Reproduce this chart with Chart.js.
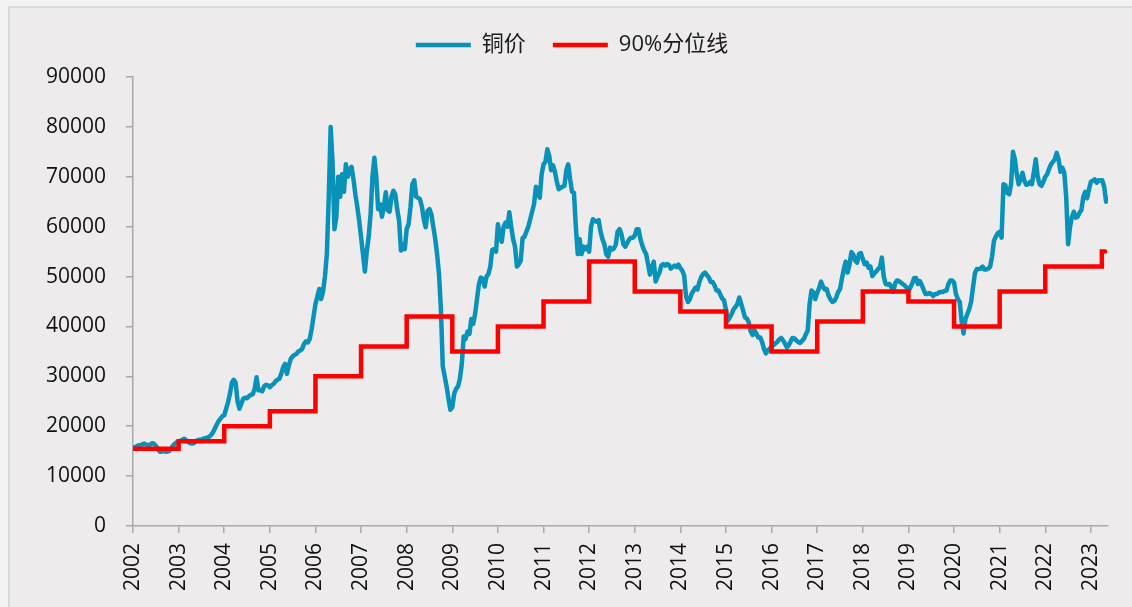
<!DOCTYPE html>
<html>
<head>
<meta charset="utf-8">
<script src="https://cdn.jsdelivr.net/npm/chart.js@4.4.0/dist/chart.umd.min.js"></script>
<style>
html, body { margin: 0; padding: 0; background: #f3f3f3; }
#frame { position: absolute; left: 8px; top: 6px; width: 1124px; height: 601px; box-sizing: border-box;
	background: #edebeb; border-left: 2px solid #dadada; border-top: 2px solid #dadada; }
#c { position: absolute; left: 0; top: 0; }
</style>
</head>
<body>
<div id="frame"></div>
<canvas id="c" width="1132" height="607"></canvas>
<script>

// copper price, semi-monthly readings, one array per year
var cu2002 = [15500, 15800, 16000, 16200, 16100, 16400, 16500, 16300, 16200, 16300, 16600, 16500, 16100, 15500, 14900, 14900, 15000, 14900, 14900, 15000, 15500, 16100, 16500, 16800];
var cu2003 = [16900, 17100, 17300, 17500, 17200, 16900, 16600, 16500, 16600, 17000, 17200, 17300, 17300, 17500, 17600, 17700, 17900, 18200, 18700, 19500, 20300, 21000, 21500, 22000];
var cu2004 = [22200, 23500, 24800, 26500, 28700, 29300, 28700, 25000, 23500, 24500, 25500, 25700, 25600, 26000, 26300, 26400, 27500, 29800, 27200, 27200, 27000, 28000, 28300, 28200];
var cu2005 = [27800, 28200, 28500, 29000, 29300, 29500, 30500, 31800, 32500, 30500, 32200, 33500, 34000, 34300, 34500, 35000, 35200, 35500, 36500, 37000, 36800, 37500, 39500, 42000];
var cu2006 = [44500, 46000, 47500, 45500, 47000, 50000, 54500, 66000, 80000, 73000, 59500, 62000, 70000, 66000, 70500, 67000, 72500, 70000, 71500, 72000, 69500, 66500, 64000, 61200];
var cu2007 = [57900, 54500, 51000, 55000, 58000, 62500, 70000, 73800, 70000, 63500, 64500, 62000, 64000, 66900, 63300, 63000, 66000, 67200, 66500, 63500, 61200, 55200, 56500, 55500];
var cu2008 = [59500, 60500, 63900, 68500, 69300, 66000, 65800, 65500, 64000, 61500, 59900, 63200, 63500, 62500, 60000, 57600, 54500, 50500, 43500, 32000, 30000, 28000, 25500, 23300];
var cu2009 = [23800, 26500, 27500, 28000, 29500, 32500, 38000, 37500, 39000, 38500, 41500, 40500, 42500, 45500, 48500, 49800, 49500, 48000, 50000, 50500, 52000, 55300, 55500, 55000];
var cu2010 = [60500, 58000, 57000, 60000, 60800, 60000, 62900, 60000, 57500, 56000, 52000, 52500, 53200, 57700, 58000, 59000, 60000, 61500, 63000, 64500, 68000, 66700, 65800, 70500];
var cu2011 = [72500, 73000, 75500, 74200, 71300, 72300, 71000, 69000, 67500, 67800, 68000, 68200, 71300, 72500, 69500, 67000, 66800, 60000, 54500, 57500, 54500, 56000, 55500, 56000];
var cu2012 = [55000, 60000, 61500, 61200, 61000, 61300, 59000, 57500, 56500, 54500, 54000, 55800, 55400, 55600, 56400, 59000, 59500, 58500, 56500, 56000, 56700, 57400, 57800, 57800];
var cu2013 = [58200, 59500, 59500, 57500, 56200, 55200, 54500, 52500, 50400, 51800, 53000, 49000, 50000, 50800, 52200, 52500, 52200, 52500, 52300, 51600, 51900, 52200, 51900, 52400];
var cu2014 = [51700, 51200, 50200, 46000, 44900, 45500, 46600, 47200, 47800, 47400, 48900, 49900, 50500, 50800, 50300, 49800, 48900, 48900, 48200, 47200, 47200, 46400, 45600, 45200];
var cu2015 = [43300, 41200, 41800, 42500, 43400, 43900, 44500, 45800, 44500, 43200, 41800, 41600, 40800, 39000, 38300, 39200, 38500, 37800, 37800, 36900, 35500, 34600, 35200, 35500];
var cu2016 = [35900, 36300, 36600, 36900, 37400, 37700, 37200, 36600, 35800, 36200, 37000, 37700, 37600, 37200, 36900, 36700, 37100, 37500, 38400, 39200, 44500, 47200, 46800, 45500];
var cu2017 = [46800, 47700, 49000, 48000, 47400, 47500, 46200, 45400, 44900, 45100, 45800, 46900, 47500, 49600, 51500, 53000, 50800, 52400, 54900, 54400, 53200, 52800, 54500, 54700];
var cu2018 = [53500, 52500, 52800, 51800, 52000, 50100, 50600, 51000, 51500, 51800, 53800, 50000, 48500, 48400, 48500, 47900, 46900, 48600, 49200, 49100, 48800, 48500, 48200, 47800];
var cu2019 = [47200, 47800, 48600, 49700, 49700, 48500, 49100, 48300, 47400, 46500, 46500, 46700, 46500, 46100, 46500, 46500, 46800, 46900, 46900, 47100, 47200, 48500, 49200, 49200];
var cu2020 = [48800, 46500, 45500, 44900, 41000, 38600, 41500, 42500, 43500, 45000, 47900, 50700, 51500, 51500, 51600, 52000, 51400, 51400, 51600, 52000, 54000, 57200, 58000, 58700];
var cu2021 = [59000, 57800, 68500, 68300, 66800, 66500, 68500, 75000, 73500, 70500, 68500, 69500, 70800, 69200, 68400, 68500, 69000, 68500, 71000, 73500, 70000, 68500, 68200, 69000];
var cu2022 = [70000, 70500, 71600, 72500, 73000, 73500, 74800, 73500, 71000, 71800, 70800, 66000, 56500, 59900, 61900, 63000, 61800, 62000, 62800, 63300, 66000, 67000, 65700, 67500];
var cu2023 = [69000, 69200, 69500, 68800, 69300, 69200, 69300, 68000, 65000, 65500];

var years = [2002, 2003, 2004, 2005, 2006, 2007, 2008, 2009, 2010, 2011, 2012, 2013, 2014, 2015, 2016, 2017, 2018, 2019, 2020, 2021, 2022, 2023];
var pointsPerYear = 24;

// 90% quantile line: each value holds from its date until the next one
var q90Dates = [2002, 2003, 2004, 2005, 2006, 2007, 2008, 2009, 2010, 2011, 2012, 2013, 2014, 2015, 2016, 2017, 2018, 2019, 2020, 2021, 2022, 2023.24, 2023.31];
var q90Values = [15500, 17000, 20000, 23000, 30000, 36000, 42000, 35000, 40000, 45000, 53000, 47000, 43000, 40000, 35000, 41000, 47000, 45000, 40000, 47000, 52000, 55000, 55000];

var yTicks = [0, 10000, 20000, 30000, 40000, 50000, 60000, 70000, 80000, 90000];


var copperByYear = [cu2002, cu2003, cu2004, cu2005, cu2006, cu2007, cu2008, cu2009, cu2010, cu2011, cu2012,
	cu2013, cu2014, cu2015, cu2016, cu2017, cu2018, cu2019, cu2020, cu2021, cu2022, cu2023];

var copperPoints = [];
for (var i = 0; i < years.length; i++) {
	for (var k = 0; k < copperByYear[i].length; k++) {
		copperPoints.push({x: years[i] + k / pointsPerYear, y: copperByYear[i][k]});
	}
}

var q90Points = [];
for (var j = 0; j < q90Dates.length; j++) {
	q90Points.push({x: q90Dates[j], y: q90Values[j]});
}

var axisGrey = "#a9a9a9";
var textColor = "#111111";
Chart.defaults.font.family = "'Open Sans', 'Noto Sans CJK SC', sans-serif";

// push the plot down a little below the legend
var legendGap = {
	id: "legendGap",
	beforeInit: function (chart) {
		var fit = chart.legend.fit;
		chart.legend.fit = function () {
			fit.bind(chart.legend)();
			this.height += 11;
		};
	}
};

new Chart(document.getElementById("c"), {
	type: "line",
	data: {
		datasets: [
			{
				label: "铜价",
				data: copperPoints,
				borderColor: "#0891b9",
				backgroundColor: "#0891b9",
				borderWidth: 4.5,
				pointRadius: 0,
				tension: 0,
				borderJoinStyle: "round",
				borderCapStyle: "round",
				order: 1
			},
			{
				label: "90%分位线",
				data: q90Points,
				stepped: "before",
				borderColor: "#ff0000",
				backgroundColor: "#ff0000",
				borderWidth: 4.5,
				pointRadius: 0,
				borderCapStyle: "round",
				order: 0
			}
		]
	},
	options: {
		responsive: false,
		animation: false,
		layout: { padding: { top: 7, left: 36, right: 24, bottom: 0 } },
		plugins: {
			tooltip: { enabled: false },
			legend: {
				position: "top",
				labels: {
					usePointStyle: true,
					pointStyle: "line",
					pointStyleWidth: 55,
					padding: 27,
					color: "#1a1a1a",
					font: { size: 22 },
					sort: function (a, b) { return a.datasetIndex - b.datasetIndex; }
				}
			}
		},
		scales: {
			x: {
				type: "linear",
				min: 2002,
				max: 2023.375,
				afterBuildTicks: function (scale) {
					scale.ticks = years.map(function (v) { return {value: v}; });
				},
				afterFit: function (scale) { scale.height = 81; },
				ticks: {
					autoSkip: false,
					minRotation: 90,
					maxRotation: 90,
					padding: 10,
					color: textColor,
					font: { size: 21 },
					callback: function (v) { return String(v); }
				},
				grid: { display: true, drawOnChartArea: false, drawTicks: true, tickLength: 7, color: axisGrey, lineWidth: 1.5 },
				border: { display: true, color: axisGrey, width: 1.5 }
			},
			y: {
				min: 0,
				max: 90000,
				afterBuildTicks: function (scale) {
					scale.ticks = yTicks.map(function (v) { return {value: v}; });
				},
				afterFit: function (scale) { scale.width = 97; },
				ticks: {
					padding: 20,
					color: textColor,
					font: { size: 21 },
					callback: function (v) { return String(v); }
				},
				grid: { display: true, drawOnChartArea: false, drawTicks: true, tickLength: 7, color: axisGrey, lineWidth: 1.5 },
				border: { display: true, color: axisGrey, width: 1.5 }
			}
		}
	},
	plugins: [legendGap]
});
</script>
</body>
</html>
